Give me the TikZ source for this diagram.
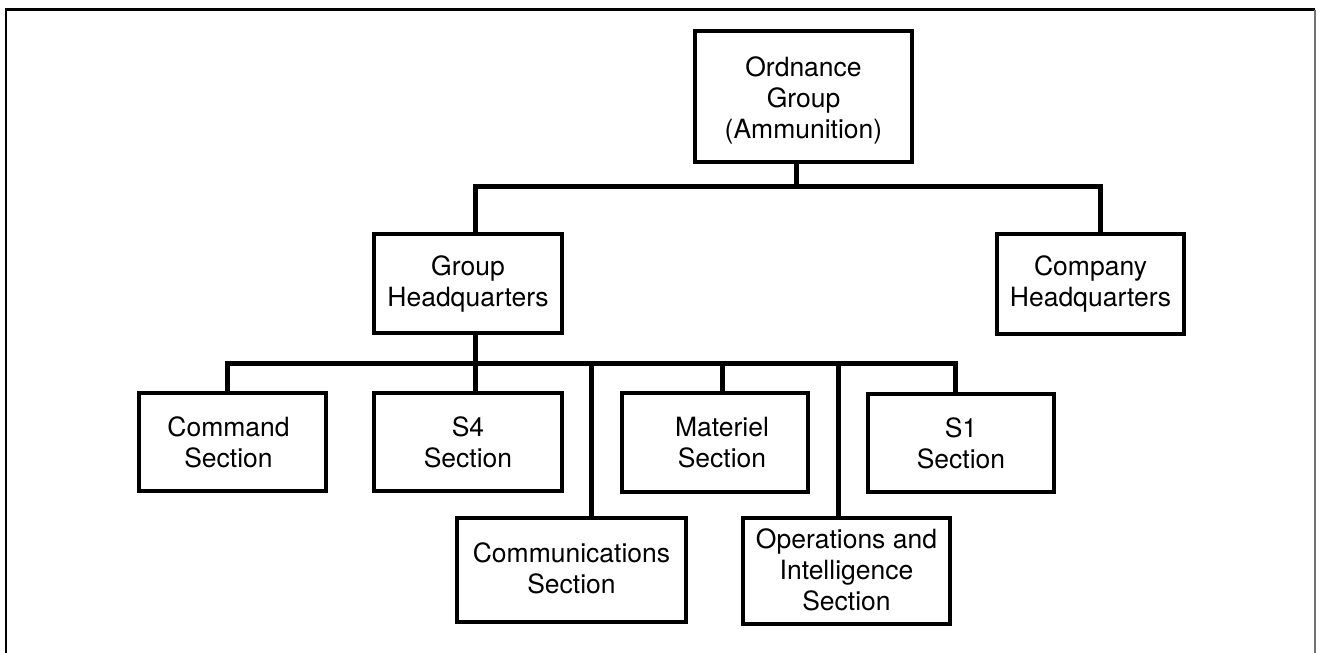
\documentclass[tikz,border=0pt]{standalone}
\usepackage{fontspec}
\setmainfont{TeX Gyre Heros}
\begin{document}
\begin{tikzpicture}[x=1pt,y=-1pt,
  unitbox/.style={draw, line width=3.8pt, inner sep=0pt},
  topbox/.style={unitbox, line width=4.6pt},
  txt/.style={align=center, inner sep=0pt,
    font=\fontsize{26.5}{31}\selectfont},
  link/.style={draw, line width=5pt, line join=miter}]
\useasboundingbox (0,0) rectangle (1318,653);

% outer frame (open at the bottom)
\draw[line width=2.6pt] (6,653) -- (6,9.5) -- (1315,9.5);
\draw[line width=1.2pt, black!55] (1315,9.5) -- (1315,653);

% boxes, each carrying its title as a centred label
\node[topbox, minimum width=217pt, minimum height=131pt,
  label={[txt, yshift=-4pt]center:{Ordnance\\Group\\(Ammunition)}}]
  (ord) at (803.5,96.5) {};
\node[unitbox, minimum width=188pt, minimum height=99pt,
  label={[txt]center:{Group\\Headquarters}}]
  (ghq) at (468,283.5) {};
\node[unitbox, minimum width=187pt, minimum height=100pt,
  label={[txt]center:{Company\\Headquarters}}]
  (chq) at (1090.5,284) {};
\node[unitbox, minimum width=187pt, minimum height=98pt,
  label={[txt, xshift=-4pt]center:{Command\\Section}}]
  (cmd) at (232.5,442) {};
\node[unitbox, minimum width=188pt, minimum height=98pt,
  label={[txt]center:{S4\\Section}}]
  (s4) at (468,442) {};
\node[unitbox, minimum width=186pt, minimum height=99pt,
  label={[txt, xshift=7pt]center:{Materiel\\Section}}]
  (mat) at (715,442.5) {};
\node[unitbox, minimum width=186pt, minimum height=98pt,
  label={[txt]center:{S1\\Section}}]
  (s1) at (961,443) {};
\node[unitbox, minimum width=229pt, minimum height=104pt,
  label={[txt, yshift=2pt]center:{Communications\\Section}}]
  (comm) at (571.5,570) {};
\node[unitbox, minimum width=207pt, minimum height=106pt,
  label={[txt, yshift=1pt]center:{Operations and\\Intelligence\\Section}}]
  (oi) at (846.5,571) {};

% junction points on the two buses
\coordinate (tO) at (796,186);
\coordinate (tA) at (475,186);
\coordinate (tB) at (1100,186);
\coordinate (bL) at (227,363);
\coordinate (bCm) at (591,363);
\coordinate (bM) at (722,363);
\coordinate (bOI) at (838,363);
\coordinate (bR) at (955,363);

% upper level
\draw[link] (ord.south -| tO) -- (tO);
\draw[link] (ghq.north -| tA) -- (tA) -- (tB) -- (chq.north -| tB);

% section level
\draw[link] (ghq.south -| tA) -- (s4.north -| tA);
\draw[link] (cmd.north -| bL) -- (bL) -- (bR) -- (s1.north -| bR);
\draw[link] (bCm) -- (comm.north -| bCm);
\draw[link] (bM) -- (mat.north -| bM);
\draw[link] (bOI) -- (oi.north -| bOI);
\end{tikzpicture}
\end{document}
